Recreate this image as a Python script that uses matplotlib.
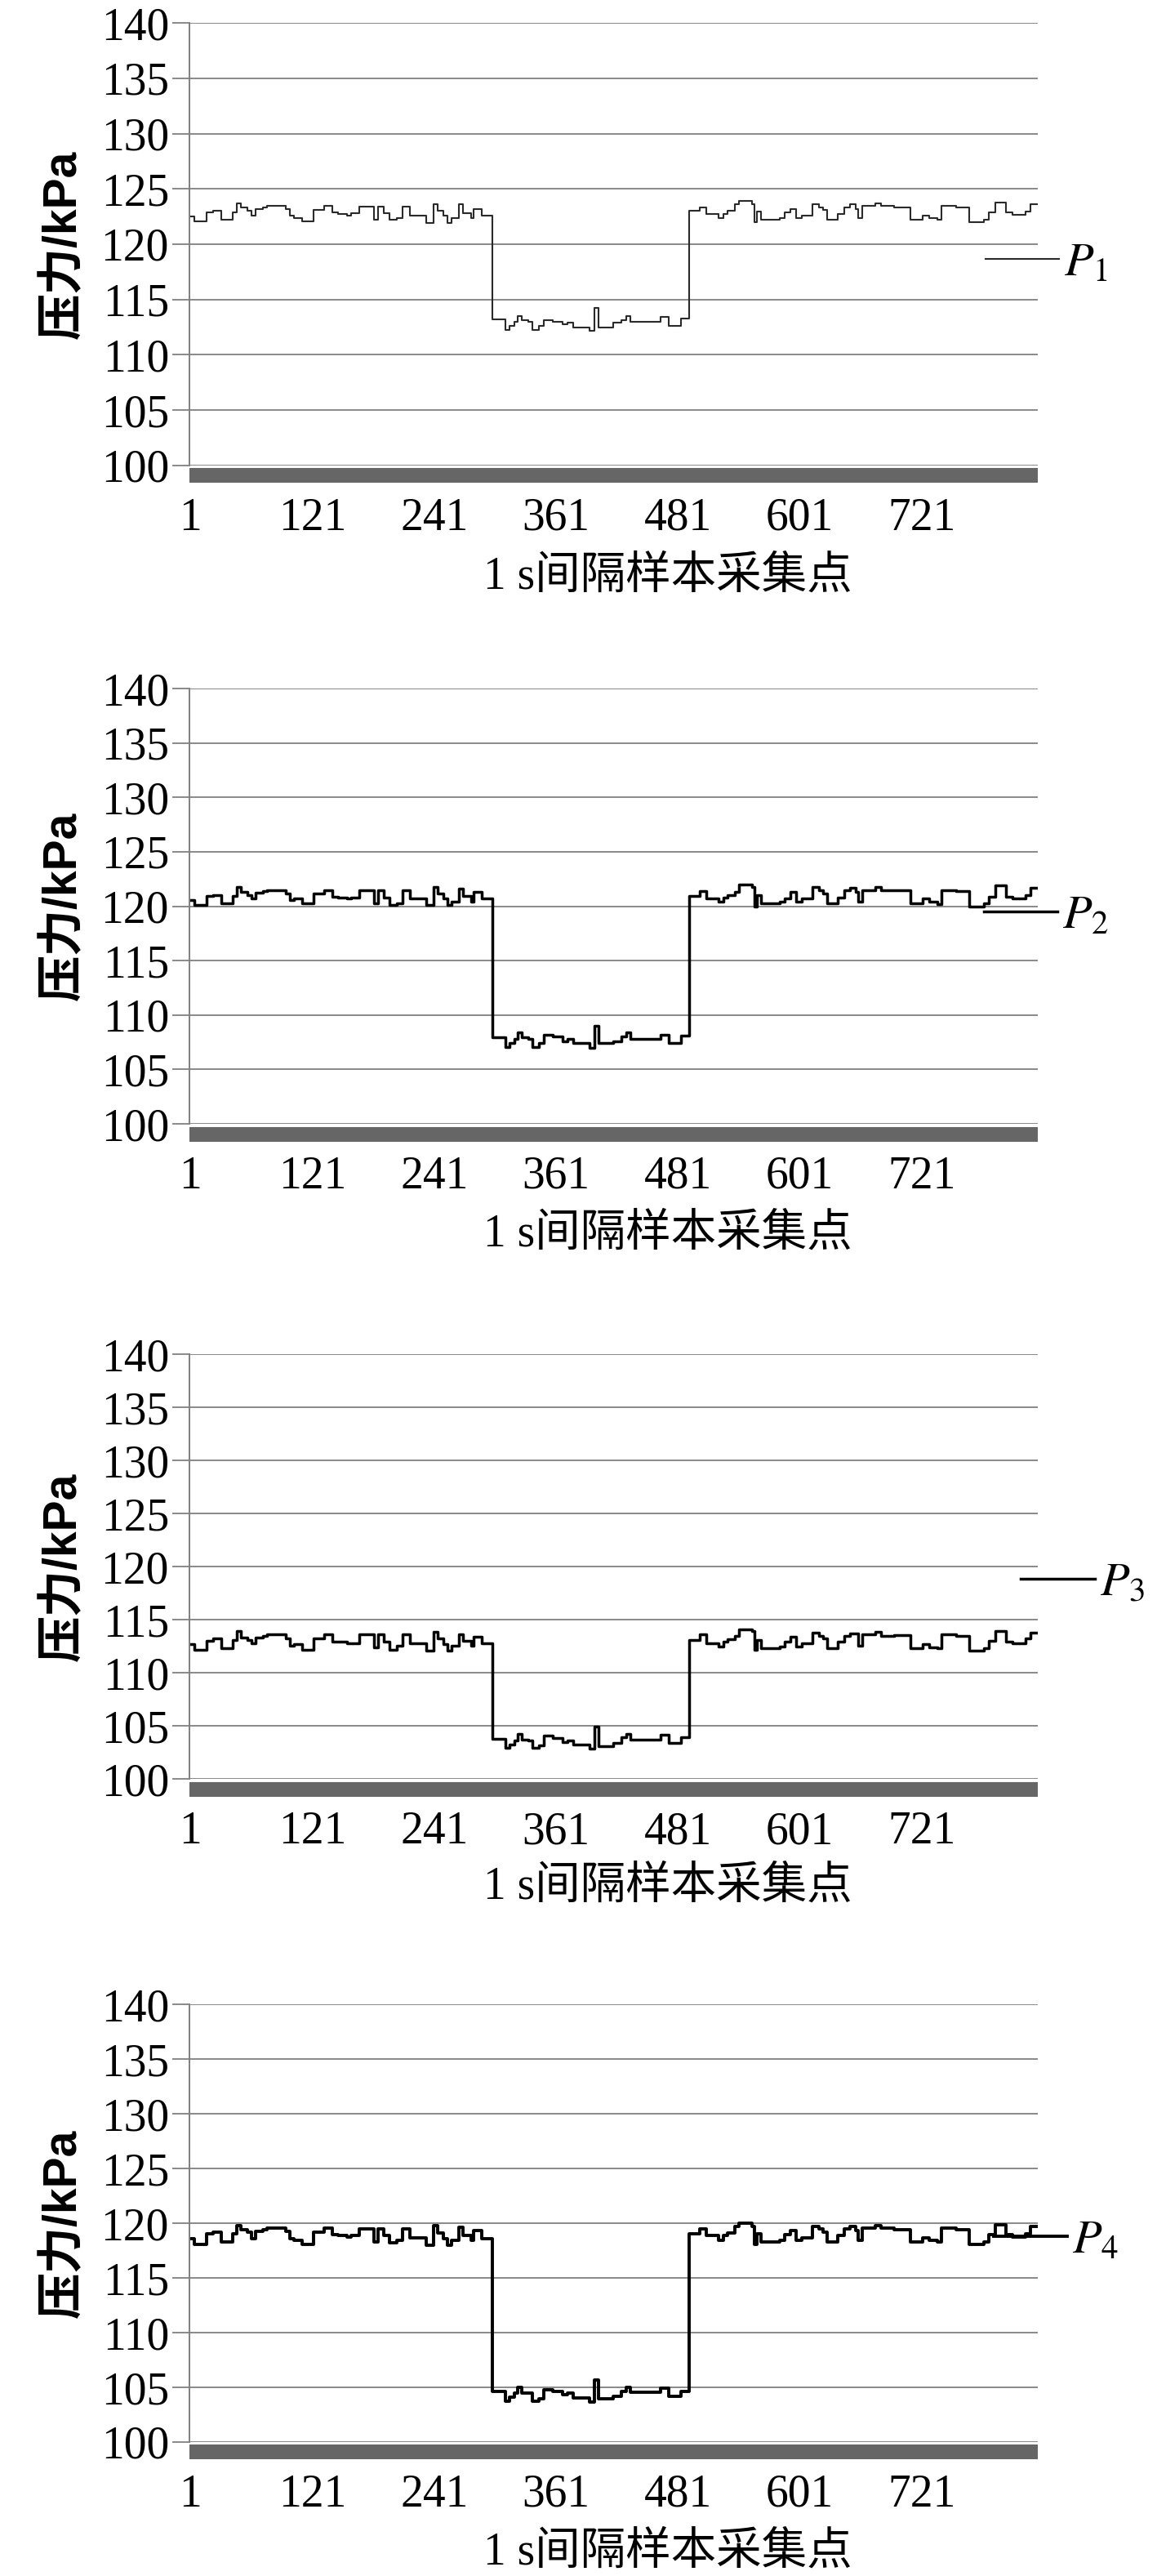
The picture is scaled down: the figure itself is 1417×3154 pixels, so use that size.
import numpy as np
import matplotlib
matplotlib.use("Agg")
import matplotlib.pyplot as plt

plt.rcParams["font.family"] = "Liberation Serif"
plt.rcParams["mathtext.fontset"] = "stix"

# sample index where each step starts (shared by all four sensors)
steps = [1, 5, 17, 23, 31, 43, 47, 51, 57, 61, 65, 72, 76, 95, 99, 103, 111, 122,
         133, 141, 146, 155, 159, 167, 182, 186, 191, 197, 204, 210, 217, 233, 240,
         244, 250, 254, 258, 265, 269, 277, 280, 288, 298, 311, 315, 320, 323, 327,
         334, 338, 344, 349, 358, 367, 372, 378, 394, 399, 403, 417, 425, 430, 434,
         464, 472, 484, 492, 502, 509, 521, 526, 530, 537, 541, 554, 556, 559, 563,
         581, 586, 592, 597, 603, 613, 620, 624, 628, 638, 645, 650, 656, 658, 662,
         675, 681, 694, 710, 722, 728, 736, 740, 755, 768, 782, 787, 793, 804, 810,
         823, 828]
last_sample = 834

# pressure levels (kPa) for each step
p1 = [122.5, 122.05, 122.9, 123.05, 122.2, 122.9, 123.7, 123.35, 123.05, 122.55,
      123.2, 123.35, 123.45, 123.2, 122.55, 122.35, 122.05, 123.1, 123.45, 122.85,
      122.75, 122.6, 122.8, 123.4, 122.2, 123.4, 122.8, 122.2, 122.35, 123.4,
      122.55, 121.9, 123.65, 123.0, 122.55, 121.9, 122.35, 123.6, 122.8, 122.35,
      123.2, 122.55, 113.2, 112.25, 112.6, 113.0, 113.5, 113.1, 113.0, 112.25,
      112.6, 113.1, 113.0, 112.75, 112.9, 112.5, 112.15, 114.25, 112.5, 112.9,
      113.1, 113.5, 113.0, 113.4, 112.6, 113.25, 123.0, 123.35, 122.75, 122.35,
      122.75, 123.0, 123.6, 123.9, 123.6, 122.0, 122.95, 122.2, 122.35, 122.85,
      123.2, 122.35, 122.55, 123.6, 123.35, 123.1, 122.2, 122.75, 123.35, 123.6,
      123.2, 122.35, 123.45, 123.7, 123.45, 123.3, 122.2, 122.55, 122.35, 122.2,
      123.45, 123.3, 122.0, 122.2, 122.85, 123.75, 122.85, 122.65, 122.95, 123.6]
p2 = [120.6, 120.1, 120.95, 121.05, 120.25, 120.95, 121.8, 121.3, 121.05, 120.7,
      121.25, 121.4, 121.5, 121.2, 120.6, 120.7, 120.25, 121.15, 121.5, 120.9,
      120.8, 120.75, 120.8, 121.45, 120.3, 121.45, 120.8, 120.15, 120.3, 121.45,
      120.75, 120.1, 121.8, 121.15, 120.7, 120.1, 120.45, 121.65, 120.95, 120.45,
      121.3, 120.7, 107.95, 107.05, 107.45, 107.8, 108.4, 107.95, 107.8, 107.05,
      107.4, 108.2, 108.0, 107.55, 107.8, 107.4, 106.95, 109.0, 107.4, 107.57,
      108.0, 108.4, 107.8, 108.2, 107.45, 108.1, 120.95, 121.4, 120.75, 120.45,
      120.8, 121.05, 121.3, 122.0, 121.8, 120.0, 121.0, 120.25, 120.45, 120.75,
      121.3, 120.45, 120.75, 121.75, 121.5, 121.15, 120.3, 120.8, 121.45, 121.7,
      121.3, 120.45, 121.5, 121.8, 121.45, 121.45, 120.25, 120.7, 120.4, 120.2,
      121.5, 121.4, 120.0, 120.25, 120.9, 121.9, 120.9, 120.75, 121.05, 121.7]
p3 = [112.7, 112.15, 113.0, 113.25, 112.3, 113.05, 113.9, 113.3, 113.05, 112.75,
      113.3, 113.5, 113.65, 113.25, 112.55, 112.7, 112.2, 113.25, 113.6, 112.9,
      112.95, 112.75, 112.8, 113.6, 112.4, 113.6, 112.95, 112.15, 112.55, 113.6,
      112.8, 112.1, 113.85, 113.25, 112.7, 112.1, 112.55, 113.65, 113.0, 112.55,
      113.4, 112.75, 103.8, 102.95, 103.25, 103.65, 104.25, 103.7, 103.65, 102.95,
      103.15, 104.05, 103.85, 103.45, 103.65, 103.25, 102.85, 104.95, 103.1, 103.4,
      103.9, 104.25, 103.7, 104.2, 103.4, 103.9, 113.05, 113.6, 112.8, 112.45,
      112.95, 113.2, 113.5, 114.1, 113.95, 112.15, 113.05, 112.3, 112.45, 112.95,
      113.4, 112.45, 112.8, 113.75, 113.5, 113.25, 112.35, 112.9, 113.5, 113.7,
      113.7, 112.55, 113.6, 113.85, 113.5, 113.55, 112.3, 112.7, 112.4, 112.3,
      113.65, 113.45, 112.1, 112.3, 113.0, 113.95, 112.95, 112.8, 113.25, 113.75]
p4 = [118.6, 118.1, 119.0, 119.15, 118.3, 119.0, 119.8, 119.4, 119.15, 118.6,
      119.25, 119.4, 119.55, 119.25, 118.6, 118.45, 118.1, 119.15, 119.55, 118.95,
      118.85, 118.7, 118.85, 119.5, 118.3, 119.5, 118.85, 118.25, 118.4, 119.5,
      118.65, 118.0, 119.75, 119.1, 118.6, 118.0, 118.45, 119.65, 118.9, 118.45,
      119.3, 118.6, 104.65, 103.75, 104.1, 104.45, 105.0, 104.5, 104.45, 103.75,
      103.95, 104.8, 104.65, 104.3, 104.45, 104.0, 103.65, 105.65, 103.95, 104.15,
      104.63, 105.0, 104.55, 104.9, 104.2, 104.65, 119.05, 119.45, 118.85, 118.45,
      118.85, 119.1, 119.7, 120.0, 119.7, 118.1, 119.05, 118.3, 118.45, 118.95,
      119.3, 118.45, 118.65, 119.7, 119.45, 119.2, 118.3, 118.85, 119.45, 119.7,
      119.3, 118.45, 119.55, 119.8, 119.55, 119.4, 118.3, 118.65, 118.45, 118.3,
      119.55, 119.4, 118.1, 118.3, 118.95, 119.85, 118.95, 118.75, 119.05, 119.7]

series = [p1, p2, p3, p4]
labels = ["$P_1$", "$P_2$", "$P_3$", "$P_4$"]
xtick_vals = [1, 121, 241, 361, 481, 601, 721]
ytick_vals = [100, 105, 110, 115, 120, 125, 130, 135, 140]

# axes placement (figure fraction) and legend anchors, per panel
panel_pos = [(0.8193, 0.1718), (0.5637, 0.1690), (0.3094, 0.1649), (0.0520, 0.1699)]
line_w = [1.5, 2.5, 2.5, 2.8]
line_c = ["#2a2a2a", "black", "black", "black"]
leg_anchor = [(0.938, 0.456), (0.936, 0.477), (0.980, 0.46), (0.948, 0.459)]

fig = plt.figure(figsize=(14.17, 31.54), dpi=100)

for k in range(4):
    b, h = panel_pos[k]
    ax = fig.add_axes([0.1637, b, 0.7333, h])

    x = np.append(steps, last_sample)
    y = np.append(series[k], series[k][-1])
    ax.step(x, y, where="post", color=line_c[k], lw=line_w[k], label=labels[k])

    ax.set_xlim(0, 835.2)
    ax.set_ylim(100, 140)
    ax.set_yticks(ytick_vals)
    ax.set_xticks(xtick_vals)
    ax.grid(axis="y", color="#808080", lw=1.3)
    ax.set_axisbelow(True)

    for s in ["top", "right"]:
        ax.spines[s].set_visible(False)
    ax.spines["left"].set_color("#808080")
    ax.spines["left"].set_linewidth(1.4)
    ax.spines["bottom"].set_color("#666666")
    ax.spines["bottom"].set_linewidth(13)
    ax.spines["bottom"].set_capstyle("butt")
    ax.spines["bottom"].set_position(("outward", 9))

    ax.tick_params(axis="y", length=15, width=1.3, color="#808080", pad=3, labelsize=40)
    ax.tick_params(axis="x", length=0, pad=19, labelsize=40)

    ax.set_ylabel("压力/kPa", family=["Liberation Sans", "Noto Sans CJK SC"],
                  fontsize=41, fontweight="bold")
    ax.yaxis.set_label_coords(-0.122, 0.5)
    ax.set_xlabel("1 s间隔样本采集点", family=["Liberation Serif", "Noto Sans CJK SC"],
                  fontsize=40)
    ax.xaxis.set_label_coords(0.564, -0.205)

    ax.legend(loc="center left", bbox_to_anchor=leg_anchor[k], frameon=False,
              fontsize=42, handlelength=1.55, handletextpad=0.1,
              borderpad=0, borderaxespad=0)

plt.savefig("out.png", dpi=100)
